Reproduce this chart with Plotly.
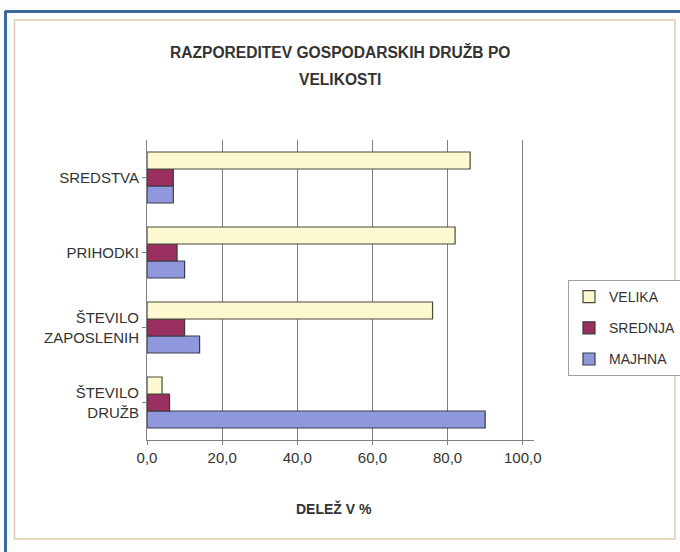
import plotly.graph_objects as go

categories = ["ŠTEVILO<br>DRUŽB", "ŠTEVILO<br>ZAPOSLENIH", "PRIHODKI", "SREDSTVA"]
majhna = [90, 14, 10, 7]
srednja = [6, 10, 8, 7]
velika = [4, 76, 82, 86]
tick_vals = [0, 20, 40, 60, 80, 100]

W, H = 680, 552
L, R, T, B = 147, 534, 140, 440

def px(x):
    return (x - L) / (R - L)

def py(y):
    return (B - y) / (B - T)

font = "Liberation Sans, Arial, sans-serif"
fig = go.Figure()
fig.add_trace(go.Bar(y=categories, x=majhna, name="MAJHNA", orientation="h",
                     legendgroup="c", legendrank=3,
                     marker=dict(color="#8f98dc", line=dict(color="#3a3a4a", width=1.2))))
fig.add_trace(go.Bar(y=categories, x=srednja, name="SREDNJA", orientation="h",
                     legendgroup="b", legendrank=2,
                     marker=dict(color="#99305f", line=dict(color="#3a3a3a", width=1.2))))
fig.add_trace(go.Bar(y=categories, x=velika, name="VELIKA", orientation="h",
                     legendgroup="a", legendrank=1,
                     marker=dict(color="#fcf8cf", line=dict(color="#4a4a3a", width=1.2))))

shapes = [
    dict(type="line", xref="paper", yref="paper", x0=px(5), x1=px(680), y0=py(11.5), y1=py(11.5),
         line=dict(color="#3d6a9c", width=3), layer="below"),
    dict(type="line", xref="paper", yref="paper", x0=px(5.5), x1=px(5.5), y0=py(11), y1=py(552),
         line=dict(color="#3d6a9c", width=3), layer="below"),
    dict(type="rect", xref="paper", yref="paper", x0=px(14.5), x1=px(675), y0=py(20), y1=py(539),
         line=dict(color="#e2cbb0", width=1.5), fillcolor="white", layer="below"),
]

annotations = [
    dict(text="<b>RAZPOREDITEV GOSPODARSKIH DRUŽB PO</b>", xref="paper", yref="paper",
         x=px(340), y=py(52), xanchor="center", yanchor="middle", showarrow=False,
         font=dict(family=font, size=15.6, color="#333333")),
    dict(text="<b>VELIKOSTI</b>", xref="paper", yref="paper",
         x=px(340), y=py(79), xanchor="center", yanchor="middle", showarrow=False,
         font=dict(family=font, size=15.6, color="#333333")),
    dict(text="<b>DELEŽ V %</b>", xref="paper", yref="paper",
         x=px(334), y=py(508), xanchor="center", yanchor="middle", showarrow=False,
         font=dict(family=font, size=14, color="#333333")),
]

fig.update_layout(
    width=W, height=H,
    margin=dict(l=L, r=W - R, t=T, b=H - B, autoexpand=False),
    paper_bgcolor="#fbfdff",
    plot_bgcolor="#c8c8c8",
    barmode="group",
    bargap=0.32,
    bargroupgap=0,
    separators=",.",
    font=dict(family=font, size=15, color="#333333"),
    xaxis=dict(range=[0, 103], tickvals=tick_vals, tickformat=".1f",
               showgrid=True, gridcolor="#7f7f7f", gridwidth=1,
               showline=True, linecolor="#808080", ticks="outside", tickcolor="#808080",
               ticklen=4, zeroline=False,
               tickfont=dict(size=15, color="#333333")),
    yaxis=dict(categoryorder="array", categoryarray=categories,
               showline=True, linecolor="#808080", ticks="outside", tickcolor="#808080",
               ticklen=4, showgrid=False, tickfont=dict(size=15, color="#333333")),
    legend=dict(x=px(568), y=py(280), xanchor="left", yanchor="top",
                traceorder="grouped", tracegroupgap=10, itemwidth=30,
                bgcolor="white", bordercolor="#a0a0a0", borderwidth=1,
                font=dict(size=14, color="#333333")),
    shapes=shapes,
    annotations=annotations,
)

fig.write_html("out.html", config={"displayModeBar": False},
               post_script="document.body.style.margin='0px';document.body.style.overflow='hidden';")
